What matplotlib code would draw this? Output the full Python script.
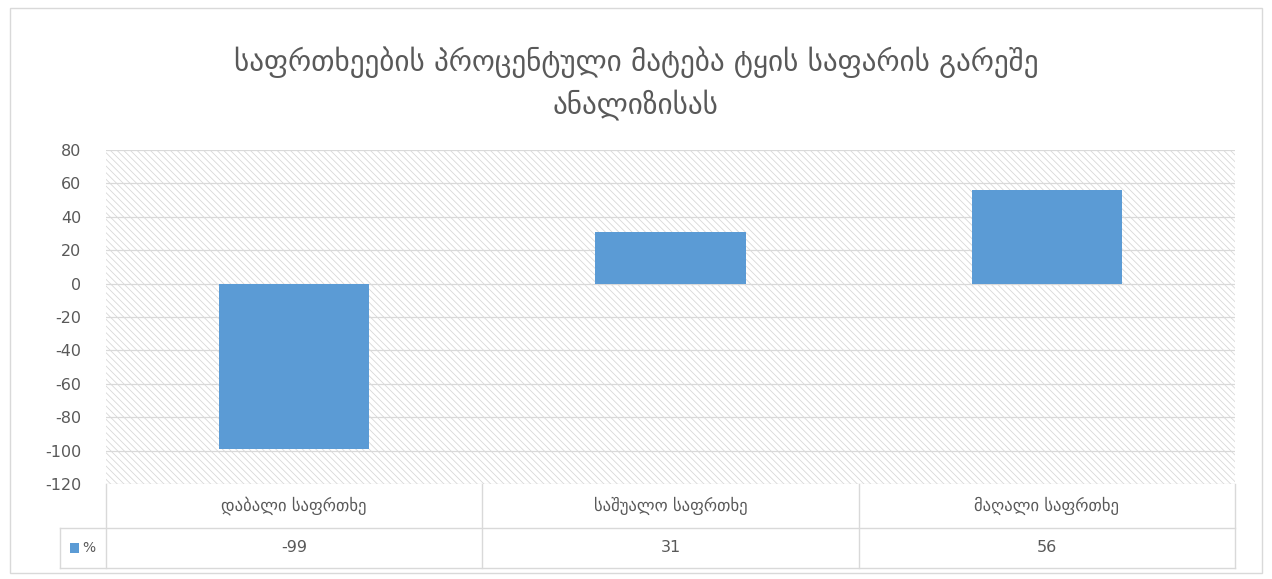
import matplotlib
matplotlib.use("Agg")
import matplotlib.pyplot as plt
import matplotlib.patches as patches
import matplotlib.transforms as transforms

# data
title = "საფრთხეების პროცენტული მატება ტყის საფარის გარეშე\nანალიზისას"
categories = ["დაბალი საფრთხე", "საშუალო საფრთხე", "მაღალი საფრთხე"]
values = [-99, 31, 56]
series_name = "%"
y_ticks = [-120, -100, -80, -60, -40, -20, 0, 20, 40, 60, 80]

BAR = "#5b9bd5"
GRID = "#d9d9d9"
TXT = "#595959"

W, H = 1272, 579
plt.rcParams["hatch.linewidth"] = 0.6
fig = plt.figure(figsize=(W / 100, H / 100), dpi=100)
fig.patch.set_facecolor("white")

# outer chart border
fig.patches.append(patches.Rectangle((10 / W, 1 - 573 / H), 1252 / W, 565 / H,
                                     transform=fig.transFigure, facecolor="none",
                                     edgecolor=GRID, lw=1.0, zorder=-1))

# plot area in pixels
px_l, px_r, px_t, px_b = 106, 1235, 150, 484
ax = fig.add_axes([px_l / W, 1 - px_b / H, (px_r - px_l) / W, (px_b - px_t) / H])
ax.set_xlim(-0.5, len(categories) - 0.5)
ax.set_ylim(y_ticks[0], y_ticks[-1])
for s in ax.spines.values():
    s.set_visible(False)

# hatched background
ax.add_patch(patches.Rectangle((0, 0), 1, 1, transform=ax.transAxes, facecolor="white",
                               edgecolor="#d8d8d8", hatch="\\\\\\\\\\", lw=0, zorder=0))
for t in y_ticks:
    ax.axhline(t, color=GRID, lw=0.9, zorder=1)

x = list(range(len(categories)))
ax.bar(x, values, width=0.4, color=BAR, zorder=2)

ax.set_xticks([])
ax.set_yticks(y_ticks)
ax.set_yticklabels([str(t) for t in y_ticks], color=TXT, fontsize=11.5)
ax.tick_params(axis="y", length=0, pad=18)

fig.text(0.5, 1 - 83 / H, title, fontsize=21, color=TXT, ha="center", va="center",
         linespacing=1.45)

# data table below the plot
ah = px_b - px_t
aw = px_r - px_l
row1 = -(528 - px_b) / ah
row2 = -(568 - px_b) / ah
left_cell = (60 - px_l) / aw
tr = transforms.blended_transform_factory(ax.transData, ax.transAxes)
kw = dict(color=GRID, lw=1.0, clip_on=False, transform=ax.transAxes)
ax.plot([left_cell, 1], [row1, row1], **kw)
ax.plot([left_cell, 1], [row2, row2], **kw)
ax.plot([left_cell, left_cell], [row1, row2], **kw)
for b in range(len(categories) + 1):
    xb = b - 0.5
    ax.plot([xb, xb], [0, row2], color=GRID, lw=1.0, clip_on=False, transform=tr)

for i, (c, v) in enumerate(zip(categories, values)):
    ax.text(i, row1 / 2, c, transform=tr, ha="center", va="center", fontsize=12, color=TXT)
    ax.text(i, (row1 + row2) / 2, str(v), transform=tr, ha="center", va="center",
            fontsize=11.5, color=TXT)

# legend key in the table
ky = (row1 + row2) / 2
ax.add_patch(patches.Rectangle((-(106 - 70) / aw, ky - 5 / ah), 9 / aw, 10 / ah,
                               transform=ax.transAxes, facecolor=BAR, clip_on=False))
ax.text(-(106 - 82) / aw, ky, series_name, transform=ax.transAxes, ha="left",
        va="center", fontsize=10, color=TXT)

fig.savefig("out.png", dpi=100, facecolor="white")
